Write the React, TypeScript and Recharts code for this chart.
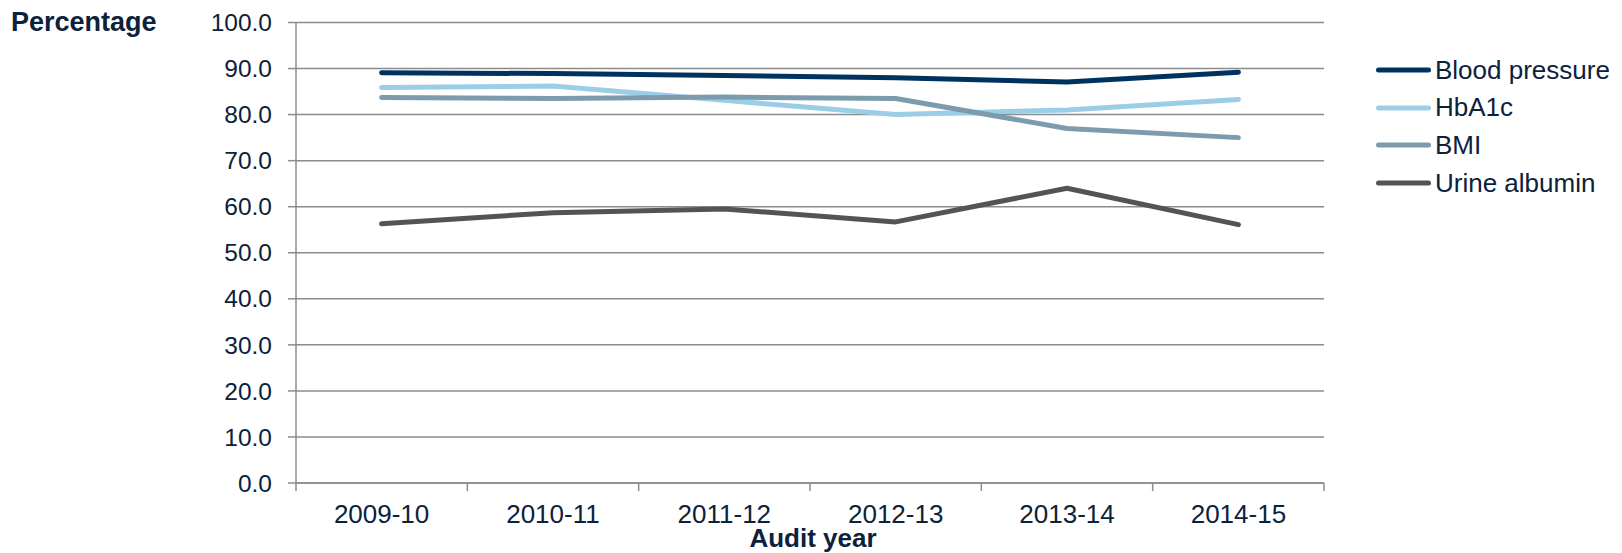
import React from "react";
import { LineChart, Line, XAxis, YAxis, CartesianGrid, Label } from "recharts";

const years = ["2009-10", "2010-11", "2011-12", "2012-13", "2013-14", "2014-15"];
const bloodPressure = [89.1, 88.9, 88.5, 88.0, 87.1, 89.2];
const hba1c = [85.9, 86.2, 83.1, 80.0, 81.0, 83.3];
const bmi = [83.7, 83.5, 83.8, 83.5, 77.0, 75.0];
const urineAlbumin = [56.3, 58.7, 59.5, 56.7, 64.0, 56.1];

const yTicks = [0, 10, 20, 30, 40, 50, 60, 70, 80, 90, 100];
const edgeTicks = [0, 1, 2, 3, 4, 5, 6];

const series = [
    { key: "bp", name: "Blood pressure", color: "#00325f", values: bloodPressure },
    { key: "hba1c", name: "HbA1c", color: "#9ccde6", values: hba1c },
    { key: "bmi", name: "BMI", color: "#7c9cad", values: bmi },
    { key: "urine", name: "Urine albumin", color: "#545454", values: urineAlbumin },
];

const data = years.map((year, i) => {
    const row: any = { year, slot: i + 0.5 };
    series.forEach((s) => { row[s.key] = s.values[i]; });
    return row;
});

const FONT = '"Liberation Sans", Arial, sans-serif';
const INK = "#0c213b";
const GRID = "#8c8c8c";

export default function App() {
    return (
        <div style={{ position: "absolute", left: 0, top: 0, width: 1622, height: 553, fontFamily: FONT, background: "#fff" }}>
            <LineChart
                width={1622}
                height={553}
                data={data}
                margin={{ top: 22.5, right: 298, bottom: 0, left: 0 }}
            >
                <CartesianGrid vertical={false} stroke={GRID} strokeWidth={1.5} />
                {/* boundary tick marks between the audit years */}
                <XAxis
                    xAxisId={0}
                    dataKey="slot"
                    type="number"
                    domain={[0, 6]}
                    allowDataOverflow
                    ticks={edgeTicks}
                    interval={0}
                    tick={() => <g />}
                    tickLine={{ stroke: GRID, strokeWidth: 1.5 }}
                    height={1}
                    tickSize={8}
                    stroke={GRID}
                    strokeWidth={1.5}
                />
                <XAxis
                    dataKey="year"
                    xAxisId={1}
                    padding={{ left: 85.6, right: 85.6 }}
                    axisLine={false}
                    tickLine={false}
                    tickSize={7}
                    tickMargin={14}
                    height={69}
                    tick={{ fontSize: 26, fill: INK, fontFamily: FONT }}
                    interval={0}
                >
                    <Label
                        value="Audit year"
                        position="insideBottom"
                        offset={6}
                        dx={3}
                        style={{ fontSize: 26, fontWeight: "bold", fill: INK, fontFamily: FONT }}
                    />
                </XAxis>
                <YAxis
                    domain={[0, 100]}
                    ticks={yTicks}
                    width={296}
                    tickSize={8}
                    tickMargin={16}
                    stroke={GRID}
                    strokeWidth={1.5}
                    tickFormatter={(v: number) => v.toFixed(1)}
                    tick={{ fontSize: 24.5, fill: INK, fontFamily: FONT }}
                >
                    <Label
                        content={({ viewBox }: any) => (
                            <text
                                x={viewBox.x + 11}
                                y={viewBox.y + 8.5}
                                fontSize={27}
                                fontWeight="bold"
                                fill={INK}
                                fontFamily={FONT}
                            >
                                Percentage
                            </text>
                        )}
                    />
                </YAxis>
                {series.map((s) => (
                    <Line
                        key={s.key}
                        xAxisId={1}
                        dataKey={s.key}
                        name={s.name}
                        type="linear"
                        stroke={s.color}
                        strokeWidth={5}
                        strokeLinecap="round"
                        strokeLinejoin="round"
                        dot={false}
                        activeDot={false}
                        isAnimationActive={false}
                    />
                ))}
            </LineChart>
            <div style={{ position: "absolute", left: 1373, top: 51.2 }}>
                {series.map((s) => (
                    <div key={s.key} style={{ display: "flex", alignItems: "center", height: 37.7 }}>
                        <svg width={61} height={10} style={{ display: "block" }}>
                            <line x1={5.5} y1={5} x2={55.5} y2={5} stroke={s.color} strokeWidth={5} strokeLinecap="round" />
                        </svg>
                        <span style={{ fontSize: 26, color: INK, whiteSpace: "nowrap", marginLeft: 1 }}>{s.name}</span>
                    </div>
                ))}
            </div>
        </div>
    );
}
